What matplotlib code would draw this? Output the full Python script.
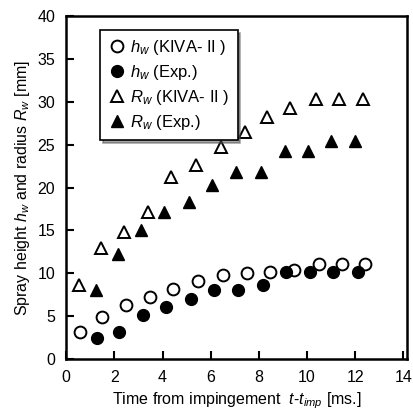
import matplotlib.pyplot as plt

plt.rcParams['font.family'] = ['Liberation Sans', 'DejaVu Sans']
plt.rcParams['mathtext.fontset'] = 'custom'
plt.rcParams['mathtext.it'] = 'Liberation Sans:italic'
plt.rcParams['mathtext.rm'] = 'Liberation Sans'

# h_w (KIVA-II) open circles
t_h_kiva = [0.56, 1.49, 2.48, 3.48, 4.44, 5.47, 6.49, 7.49, 8.45, 9.44, 10.48, 11.44, 12.42]
h_kiva = [3.2, 4.85, 6.25, 7.2, 8.2, 9.05, 9.85, 10.05, 10.1, 10.35, 11.1, 11.1, 11.1]

# h_w (Exp.) filled circles
t_h_exp = [1.27, 2.18, 3.17, 4.13, 5.18, 6.14, 7.14, 8.17, 9.13, 10.12, 11.08, 12.12]
h_exp = [2.4, 3.1, 5.15, 6.1, 7.0, 8.0, 8.0, 8.6, 10.1, 10.1, 10.1, 10.1]

# R_w (KIVA-II) open triangles
t_r_kiva = [0.53, 1.45, 2.41, 3.41, 4.37, 5.4, 6.43, 7.42, 8.35, 9.31, 10.37, 11.33, 12.33]
r_kiva = [8.6, 12.9, 14.8, 17.2, 21.2, 22.7, 24.7, 26.5, 28.3, 29.3, 30.3, 30.3, 30.3]

# R_w (Exp.) filled triangles
t_r_exp = [1.22, 2.14, 3.1, 4.06, 5.11, 6.07, 7.07, 8.1, 9.07, 10.02, 10.98, 12.01]
r_exp = [8.1, 12.2, 15.0, 17.2, 18.3, 20.3, 21.8, 21.8, 24.3, 24.3, 25.4, 25.4]

fig = plt.figure(figsize=(4.14, 4.17), dpi=100)
ax = fig.add_axes([0.16, 0.139, 0.823, 0.822])

ax.plot(t_h_kiva, h_kiva, 'o', mfc='white', mec='black', mew=1.4, ms=8.5,
        label=r'$h_w$ (KIVA- II )')
ax.plot(t_h_exp, h_exp, 'o', mfc='black', mec='black', ms=8.5,
        label=r'$h_w$ (Exp.)')
ax.plot(t_r_kiva, r_kiva, '^', mfc='white', mec='black', mew=1.4, ms=9,
        label=r'$R_w$ (KIVA- II )')
ax.plot(t_r_exp, r_exp, '^', mfc='black', mec='black', ms=9,
        label=r'$R_w$ (Exp.)')

ax.set_xlim(0, 14.15)
ax.set_ylim(0, 40)
ax.set_xticks(range(0, 15, 2))
ax.set_yticks(range(0, 41, 5))
ax.tick_params(direction='in', length=6, width=1.5, labelsize=11.5, pad=8)
for s in ax.spines.values():
    s.set_linewidth(1.8)

ax.set_xlabel(r'Time from impingement  $t$-$t_{imp}$ [ms.]', fontsize=11.5)
ax.set_ylabel(r'Spray height $h_w$ and radius $R_w$ [mm]', fontsize=11.5)

leg = ax.legend(loc='upper left', bbox_to_anchor=(0.075, 0.985), frameon=True,
                fancybox=False, shadow=True, edgecolor='black', fontsize=12,
                handletextpad=0.3, handlelength=1.0, borderpad=0.5,
                labelspacing=0.35)
leg.get_frame().set_linewidth(1.2)

plt.savefig('out.png', dpi=100)
